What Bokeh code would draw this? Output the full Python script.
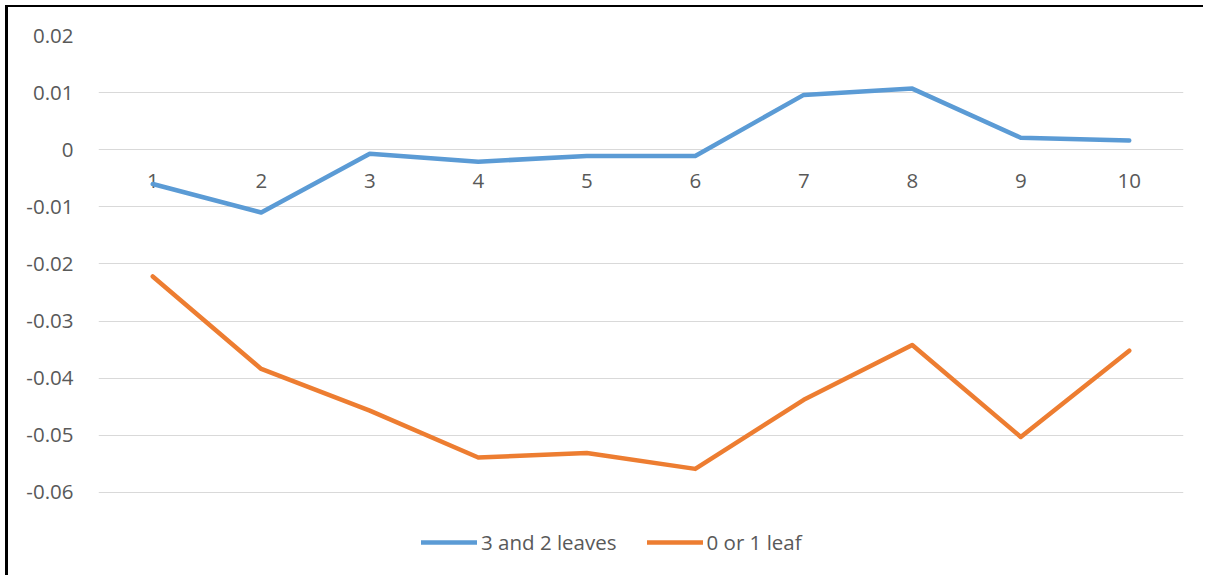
from bokeh.plotting import figure
from bokeh.layouts import column, row
from bokeh.models import Range1d, FixedTicker, Legend, LegendItem, LinearAxis, Spacer
from bokeh.embed import file_html
from bokeh.resources import INLINE

# Mean change per period for the two leaf-count groups
periods = [1, 2, 3, 4, 5, 6, 7, 8, 9, 10]
three_and_two_leaves = [-0.0060, -0.0110, -0.0007, -0.0021, -0.0011, -0.0011, 0.0096, 0.0107, 0.0021, 0.0016]
zero_or_one_leaf = [-0.0222, -0.0384, -0.0457, -0.0539, -0.0531, -0.0559, -0.0438, -0.0342, -0.0503, -0.0352]

series_names = ["3 and 2 leaves", "0 or 1 leaf"]
y_ticks = [0.02, 0.01, 0, -0.01, -0.02, -0.03, -0.04, -0.05, -0.06]
y_tick_labels = ["0.02", "0.01", "0", "-0.01", "-0.02", "-0.03", "-0.04", "-0.05", "-0.06"]

BLUE = "#5B9BD5"
ORANGE = "#ED7D31"
TEXT = "#595959"
GRID = "#D9D9D9"
FONT = "Open Sans"
FONT_SIZE = "20.5px"

p = figure(
    width=1180, height=568,
    x_range=Range1d(0.5, 10.5),
    y_range=Range1d(-0.07457, 0.02),
    output_backend="svg", toolbar_location=None,
    x_axis_location=None,
    min_border_left=90, min_border_right=5,
    min_border_top=28, min_border_bottom=0,
)
p.outline_line_color = None
p.background_fill_color = "white"
p.border_fill_color = "white"

# value axis with Excel-style labels
yax = p.yaxis[0]
yax.ticker = FixedTicker(ticks=y_ticks)
yax.major_label_overrides = {t: s for t, s in zip(y_ticks, y_tick_labels)}
yax.axis_line_color = None
yax.major_tick_line_color = None
yax.minor_tick_line_color = None
yax.major_label_standoff = 19
yax.major_label_text_font = FONT
yax.major_label_text_font_size = FONT_SIZE
yax.major_label_text_color = TEXT

p.ygrid.grid_line_color = GRID
p.ygrid.grid_line_width = 1
p.xgrid.grid_line_color = None

# category axis crossing at zero
xax = LinearAxis(ticker=FixedTicker(ticks=periods), fixed_location=0)
xax.axis_line_color = None
xax.major_tick_line_color = None
xax.minor_tick_line_color = None
xax.major_label_standoff = 18
xax.major_label_text_font = FONT
xax.major_label_text_font_size = FONT_SIZE
xax.major_label_text_color = TEXT
xax.level = "underlay"
p.add_layout(xax, "below")

r1 = p.line(periods, three_and_two_leaves, line_color=BLUE, line_width=4.5,
            line_cap="round", line_join="round")
r2 = p.line(periods, zero_or_one_leaf, line_color=ORANGE, line_width=4.5,
            line_cap="round", line_join="round")

legend = Legend(
    items=[LegendItem(label=series_names[0], renderers=[r1]),
           LegendItem(label=series_names[1], renderers=[r2])],
    location=(323, 19), orientation="horizontal",
    border_line_color=None, background_fill_alpha=0,
    padding=0, margin=0, spacing=30,
    glyph_width=56, glyph_height=20, label_standoff=4,
    label_text_font=FONT, label_text_font_size=FONT_SIZE,
    label_text_color=TEXT,
)
p.add_layout(legend)

# dark rules along the top and left edges of the chart box
top_rule = Spacer(width=1198, height=2, styles={"background-color": "black"})
left_rule = Spacer(width=3, height=568, styles={"background-color": "black"})
page = column(top_rule, row(left_rule, p, spacing=0), spacing=0, margin=(5, 0, 0, 5))

open("out.html", "w").write(file_html(page, INLINE))
